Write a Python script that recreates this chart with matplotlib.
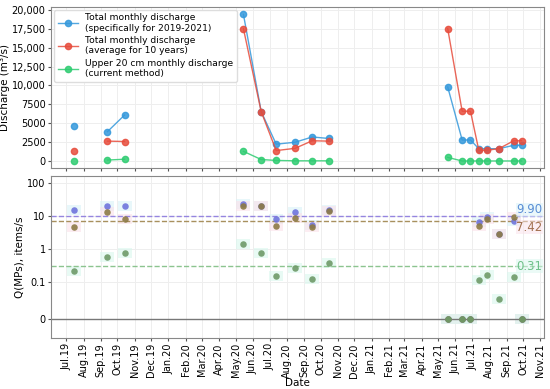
import numpy as np
import pandas as pd
import matplotlib
matplotlib.use("Agg")
import matplotlib.pyplot as plt
import matplotlib.dates as mdates
from matplotlib.ticker import FuncFormatter, MultipleLocator, FixedLocator

# sampling dates and which campaign (line segment) they belong to
dates = pd.to_datetime([
    "2019-07-14", "2019-09-13", "2019-10-14",
    "2020-05-15", "2020-06-16", "2020-07-13", "2020-08-16", "2020-09-16", "2020-10-16",
    "2021-05-18", "2021-06-13", "2021-06-28", "2021-07-13", "2021-07-28",
    "2021-08-18", "2021-09-14", "2021-09-28",
])
campaign = [0, 1, 1, 2, 2, 2, 2, 2, 2, 3, 3, 3, 3, 3, 3, 3, 3]

# discharge, m3/s
discharge_total = [4650, 3900, 6100, 19400, 6550, 2250, 2500, 3200, 3000,
                   9800, 2800, 2800, 1650, 1650, 1650, 2100, 2100]
discharge_avg10 = [1400, 2650, 2600, 17500, 6550, 1400, 1700, 2700, 2650,
                   17500, 6600, 6600, 1450, 1450, 1650, 2700, 2700]
discharge_upper = [50, 150, 260, 1300, 220, 100, 50, 50, 50,
                   500, 30, 30, 30, 30, 30, 30, 30]

# microplastic flux Q(MPs), items/s
q_total = [15.5, 20, 20, 23, 21, 8.45, 13, 5.6, 15.2,
           0, 0, 0, 6.5, 9.8, 3.0, 7.3, 0]
q_avg10 = [4.6, 13.0, 8.5, 21, 21, 4.9, 9, 4.7, 14,
           0, 0, 0, 5.2, 8, 3.0, 9.3, 0]
q_upper = [0.22, 0.6, 0.75, 1.5, 0.75, 0.16, 0.27, 0.13, 0.38,
           0, 0, 0, 0.12, 0.17, 0.055, 0.15, 0]

labels = ["Total monthly discharge\n(specifically for 2019-2021)",
          "Total monthly discharge\n(average for 10 years)",
          "Upper 20 cm monthly discharge\n(current method)"]
line_colors = ["#3498db", "#e74c3c", "#2ecc71"]
dot_colors = ["#6f74dc", "#8c7a45", "#6e9a68"]
box_colors = ["#d9f3f8", "#fbe1ea", "#d9f7ee"]
mean_line_colors = ["#9585e0", "#a8905e", "#8cc48f"]
mean_text_colors = ["#5b8fd6", "#a2704f", "#6fc18a"]

plt.rcParams['font.family'] = ['DejaVu Sans']
fig, (ax1, ax2) = plt.subplots(2, 1, figsize=(5.5, 3.89), dpi=100, sharex=True)
fig.subplots_adjust(left=0.093, right=0.989, top=0.982, bottom=0.132, hspace=0.05)

df = pd.DataFrame({"date": dates, "campaign": campaign,
                   "d_total": discharge_total, "d_avg": discharge_avg10,
                   "d_upper": discharge_upper,
                   "q_total": q_total, "q_avg": q_avg10, "q_upper": q_upper})

# --- top panel: discharge
for col, lab, c in zip(["d_total", "d_avg", "d_upper"], labels, line_colors):
    first = True
    for _, g in df.groupby("campaign"):
        ax1.plot(g["date"], g[col], "-o", color=c, lw=1, ms=4.5, alpha=0.85,
                 label=lab if first else None)
        first = False

ax1.yaxis.set_major_locator(MultipleLocator(2500))
ax1.yaxis.set_major_formatter(FuncFormatter(
    lambda v, p: f"{v:,.0f}" if v >= 10000 else f"{v:.0f}"))
ax1.set_ylabel("Discharge (m³/s)", fontsize=7.5, labelpad=1.5)
ax1.legend(loc="upper left", fontsize=6.6, frameon=True, edgecolor="#dddddd",
           framealpha=1, borderpad=0.4, labelspacing=0.35, handlelength=2.2,
           borderaxespad=0.3)

# --- bottom panel: MP flux on symlog scale
ax2.set_yscale("symlog", linthresh=0.1, linscale=1)
box_marker = [(-1.6, -1), (1.6, -1), (1.6, 1), (-1.6, 1)]
for col, dc, bc in zip(["q_total", "q_avg", "q_upper"], dot_colors, box_colors):
    ax2.scatter(df["date"], df[col], marker=box_marker, s=110, color=bc,
                alpha=0.6, lw=0, zorder=1)
for col, dc in zip(["q_total", "q_avg", "q_upper"], dot_colors):
    ax2.scatter(df["date"], df[col], s=22, color=dc, alpha=0.9, lw=0, zorder=3)

ax2.axhline(0, color="#777777", lw=1, zorder=2)
offsets = ["bottom", "top", "center"]
for col, lc, tc, bc, va in zip(["q_total", "q_avg", "q_upper"], mean_line_colors,
                               mean_text_colors, box_colors, offsets):
    m = np.mean(df[col])
    ax2.axhline(m, color=lc, ls="--", lw=1, zorder=2)
    ax2.text(0.997, m, f"{m:.2f}", transform=ax2.get_yaxis_transform(),
             ha="right", va=va, color=tc, fontsize=8.5, zorder=4,
             bbox=dict(facecolor=bc, edgecolor="none", alpha=0.5, pad=0.5))

ax2.set_ylim(-0.05, 160)
ax2.yaxis.set_major_locator(FixedLocator([0, 0.1, 1, 10, 100]))
ax2.yaxis.set_minor_locator(FixedLocator([]))
ax2.yaxis.set_major_formatter(FuncFormatter(lambda v, p: f"{v:g}"))
ax2.set_ylabel("Q(MPs), items/s", fontsize=7.5, labelpad=2)
ax2.set_xlabel("Date", fontsize=7.5, labelpad=0)

ax2.xaxis.set_major_locator(mdates.MonthLocator())
ax2.xaxis.set_major_formatter(mdates.DateFormatter("%b.%y"))
plt.setp(ax2.get_xticklabels(), rotation=90)

for ax in (ax1, ax2):
    ax.grid(True, color="#eeeeee", lw=0.7)
    ax.set_axisbelow(True)
    for s in ax.spines.values():
        s.set_color("#888888")
    ax.tick_params(labelsize=7, color="#555555", length=2.5, width=0.8, pad=1.5)

fig.savefig("out.png", dpi=100)
